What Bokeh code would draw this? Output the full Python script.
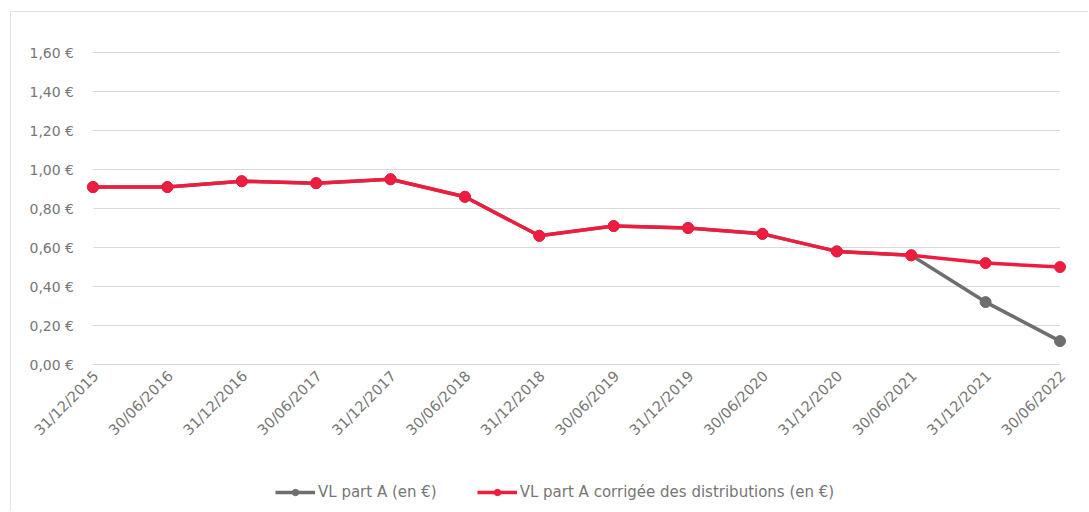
from math import pi
from bokeh.plotting import figure
from bokeh.models import Legend, LegendItem
from bokeh.embed import file_html
from bokeh.resources import INLINE

dates = ["31/12/2015", "30/06/2016", "31/12/2016", "30/06/2017", "31/12/2017",
         "30/06/2018", "31/12/2018", "30/06/2019", "31/12/2019", "30/06/2020",
         "31/12/2020", "30/06/2021", "31/12/2021", "30/06/2022"]
vl_part_a = [0.91, 0.91, 0.94, 0.93, 0.95, 0.86, 0.66, 0.71, 0.70, 0.67,
             0.58, 0.56, 0.32, 0.12]
vl_corrigee = [0.91, 0.91, 0.94, 0.93, 0.95, 0.86, 0.66, 0.71, 0.70, 0.67,
               0.58, 0.56, 0.52, 0.50]
y_ticks = [0.0, 0.2, 0.4, 0.6, 0.8, 1.0, 1.2, 1.4, 1.6]
y_labels = ["0,00 €", "0,20 €", "0,40 €", "0,60 €", "0,80 €", "1,00 €",
            "1,20 €", "1,40 €", "1,60 €"]
series_names = ["VL part A (en €)", "VL part A corrigée des distributions (en €)"]

FONT = "DejaVu Sans"
GRAY_TXT = "#767676"
RED = "#EE1C3E"
GRAY = "#6e6e6e"
GRID = "#d9d9d9"

xs = list(range(len(dates)))
n = len(dates)

# canvas sits at page (11, 12); plot area: x index 0 -> px 92.5, last -> 1059.5,
# y 0 -> px 364, 1.6 -> px 52
px_per_x = (1059.5 - 92.5) / (n - 1)
px_per_y = (364 - 52) / 1.6
x_start = -(92.5 - 11) / px_per_x
x_end = (n - 1) + (1089 - 1059.5) / px_per_x
y_end = 1.6 + (52 - 12) / px_per_y
y_start = -(512 - 364) / px_per_y

p = figure(output_backend="svg", toolbar_location=None,
           width=1078, height=500,
           min_border=0, min_border_left=0, min_border_right=0,
           min_border_top=0, min_border_bottom=0,
           x_axis_location=None, y_axis_location=None,
           x_range=(x_start, x_end), y_range=(y_start, y_end),
           styles={"border-left": "1px solid #e0e0e0",
                   "border-top": "1px solid #e0e0e0",
                   "margin-left": "10px", "margin-top": "11px"})

p.outline_line_color = None
p.background_fill_color = "white"
p.border_fill_color = "white"
p.xgrid.visible = False
p.ygrid.visible = False

# horizontal gridlines over the category span
p.segment(x0=[0] * len(y_ticks), x1=[n - 1] * len(y_ticks),
          y0=y_ticks, y1=y_ticks, line_color=GRID, line_width=1)

# y tick labels
p.text(x=[0] * len(y_ticks), y=y_ticks, text=y_labels,
       x_offset=-19, text_align="right", text_baseline="middle",
       text_font={"value": FONT}, text_font_size={"value": "14px"},
       text_color=GRAY_TXT)

# x tick labels (rotated 45°)
p.text(x=xs, y=[0] * n, text=dates, angle=pi / 4,
       x_offset=3, y_offset=9, text_align="right", text_baseline="middle",
       text_font={"value": FONT}, text_font_size={"value": "14.5px"},
       text_color=GRAY_TXT)

l1 = p.line(xs, vl_part_a, line_color=GRAY, line_width=3.5)
s1 = p.scatter(xs, vl_part_a, size=11, fill_color=GRAY, line_color=GRAY)
l2 = p.line(xs, vl_corrigee, line_color=RED, line_width=3.5)
s2 = p.scatter(xs, vl_corrigee, size=11, fill_color=RED, line_color=RED)

legend = Legend(items=[LegendItem(label=series_names[0], renderers=[l1, s1]),
                       LegendItem(label=series_names[1], renderers=[l2, s2])],
                orientation="horizontal", location=(264, 11),
                label_text_font=FONT, label_text_font_size="15px",
                label_text_color=GRAY_TXT, border_line_color=None,
                background_fill_alpha=0, glyph_width=40, glyph_height=16,
                label_height=16, spacing=40,
                label_standoff=3, padding=0, margin=0)
p.add_layout(legend, "center")

open("out.html", "w").write(file_html(p, INLINE))
